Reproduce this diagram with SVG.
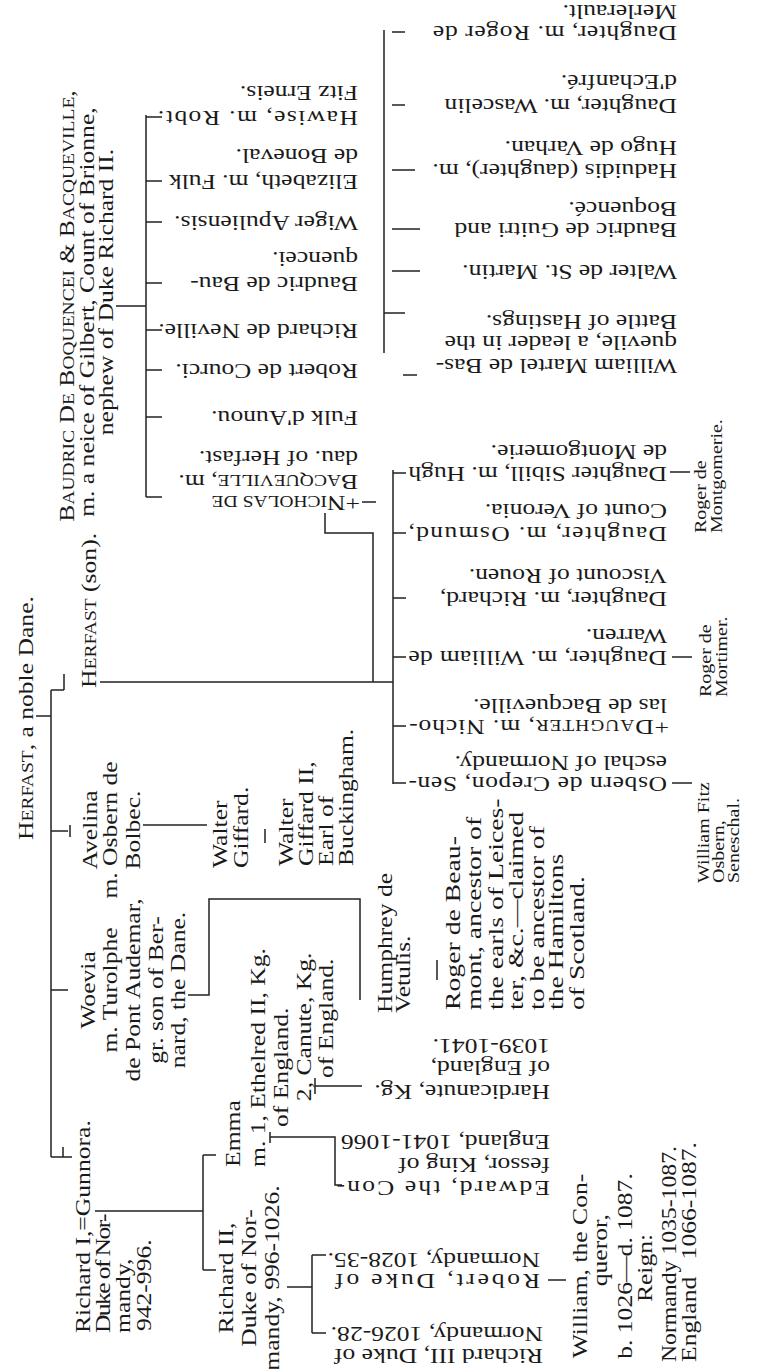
<svg xmlns="http://www.w3.org/2000/svg" width="758" height="1369" viewBox="0 0 758 1369">
<style>
text{font-family:"Liberation Serif","Times New Roman",serif;font-size:21px;fill:#1a1a1a}
.sc{font-size:16px}
.sm text{font-size:16px}
.m{text-anchor:middle}
.e{text-anchor:end}
.ln path{stroke:#222;stroke-width:1.5;fill:none}
</style>
<rect width="758" height="1369" fill="#fff"/>

<g id="herfast"><text transform="translate(33,840) rotate(-90) scale(1.22,1)">H<tspan class="sc">ERFAST</tspan>, a noble Dane.</text></g>

<g id="baudric" transform="translate(74,306) rotate(-90) scale(1.22,1)">
<text class="m" x="0" y="0">B<tspan class="sc">AUDRIC</tspan> D<tspan class="sc">E</tspan> B<tspan class="sc">OQUENCEI</tspan> &amp; B<tspan class="sc">ACQUEVILLE</tspan>,</text>
<text class="m" x="-5" y="20">m. a neice of Gilbert, Count of Brionne,</text>
<text class="m" x="11.5" y="39">nephew of Duke Richard II.</text>
</g>

<g id="hawise" transform="translate(358,111) rotate(180) scale(1.22,1)"><text textLength="164">Hawise, m. Robt.</text><text y="25">Fitz Erneis.</text></g>
<g id="elizabeth" transform="translate(358,175) rotate(180) scale(1.22,1)"><text>Elizabeth, m. Fulk</text><text y="26">de Boneval.</text></g>
<g id="wiger" transform="translate(358,216) rotate(180) scale(1.22,1)"><text>Wiger Apuliensis.</text></g>
<g id="baudric-bauquencei" transform="translate(358,277) rotate(180) scale(1.22,1)"><text>Baudric de Bau-</text><text y="25">quencei.</text></g>
<g id="neville" transform="translate(358,324) rotate(180) scale(1.22,1)"><text>Richard de Neville.</text></g>
<g id="courci" transform="translate(358,364) rotate(180) scale(1.22,1)"><text>Robert de Courci.</text></g>
<g id="fulk" transform="translate(358,411) rotate(180) scale(1.22,1)"><text>Fulk d'Aunou.</text></g>
<g id="nicholas" transform="translate(360,496) rotate(180) scale(1.22,1)"><text>+N<tspan class="sc">ICHOLAS DE</tspan></text><text x="1.6" y="21">B<tspan class="sc">ACQUEVILLE</tspan>, m.</text><text x="1.6" y="45">dau. of Herfast.</text></g>

<g id="merlerault" transform="translate(677,26) rotate(180) scale(1.22,1)"><text textLength="200">Daughter, m. Roger de</text><text y="21">Merlerault.</text></g>
<g id="wascelin" transform="translate(677,99) rotate(180) scale(1.22,1)"><text>Daughter, m. Wascelin</text><text y="24">d'Echanfré.</text></g>
<g id="haduidis" transform="translate(677,164) rotate(180) scale(1.22,1)"><text>Haduidis (daughter), m.</text><text y="23">Hugo de Varhan.</text></g>
<g id="guitri" transform="translate(677,223) rotate(180) scale(1.22,1)"><text>Baudric de Guitri and</text><text y="21">Boquencé.</text></g>
<g id="st-martin" transform="translate(677,265) rotate(180) scale(1.22,1)"><text>Walter de St. Martin.</text></g>
<g id="martel" transform="translate(677,359) rotate(180) scale(1.22,1)"><text>William Martel de Bas-</text><text y="23">quevile, a leader in the</text><text y="44">Battle of Hastings.</text></g>

<g id="herfast-son"><text transform="translate(96,688) rotate(-90) scale(1.22,1)">H<tspan class="sc">ERFAST</tspan> (son).</text></g>

<g id="sibill" transform="translate(667,467) rotate(180) scale(1.22,1)"><text textLength="212">Daughter Sibill, m. Hugh</text><text y="22">de Montgomerie.</text></g>
<g id="osmund" transform="translate(667,527) rotate(180) scale(1.22,1)"><text textLength="212">Daughter, m. Osmund,</text><text y="23">Count of Veronia.</text></g>
<g id="rouen" transform="translate(667,592) rotate(180) scale(1.22,1)"><text>Daughter, m. Richard,</text><text y="23">Viscount of Rouen.</text></g>
<g id="warren" transform="translate(667,651) rotate(180) scale(1.22,1)"><text textLength="212">Daughter, m. William de</text><text y="22">Warren.</text></g>
<g id="daughter-nicholas" transform="translate(669,720) rotate(180) scale(1.22,1)"><text textLength="213">+D<tspan class="sc">AUGHTER</tspan>, m. Nicho-</text><text x="1.6" y="21">las de Bacqueville.</text></g>
<g id="osbern" transform="translate(667,777) rotate(180) scale(1.22,1)"><text textLength="212">Osbern de Crepon, Sen-</text><text y="21">eschal of Normandy.</text></g>

<g class="sm">
<g id="montgomerie" transform="translate(706,533) rotate(-90) scale(1.25,1)"><text>Roger de</text><text y="16">Montgomerie.</text></g>
<g id="mortimer" transform="translate(711,697) rotate(-90) scale(1.25,1)"><text>Roger de</text><text y="16">Mortimer.</text></g>
<g id="fitz-osbern" transform="translate(709,883) rotate(-90) scale(1.25,1)"><text>William Fitz</text><text y="15">Osbern,</text><text y="30">Seneschal.</text></g>
</g>

<g id="avelina" transform="translate(97,830) rotate(-90) scale(1.22,1)"><text class="m">Avelina</text><text class="m" y="20">m. Osbern de</text><text class="m" y="43">Bolbec.</text></g>
<g id="walter-giffard" transform="translate(227,868) rotate(-90) scale(1.22,1)"><text>Walter</text><text y="21">Giffard.</text></g>
<g id="walter-giffard-ii" transform="translate(293,866) rotate(-90) scale(1.22,1)"><text>Walter</text><text y="20">Giffard II,</text><text y="40">Earl of</text><text y="60">Buckingham.</text></g>

<g id="woevia" transform="translate(95,990) rotate(-90) scale(1.22,1)"><text class="m">Woevia</text><text class="m" y="22">m. Turolphe</text><text class="m" y="45">de Pont Audemar,</text><text class="m" y="68">gr. son of Ber-</text><text class="m" y="90">nard, the Dane.</text></g>
<g id="humphrey" transform="translate(392,1013) rotate(-90) scale(1.22,1)"><text>Humphrey de</text><text y="18">Vetulis.</text></g>
<g id="beaumont" transform="translate(460,1010) rotate(-90) scale(1.32,1)"><text>Roger de Beau-</text><text y="21">mont, ancestor of</text><text y="43">the earls of Leices-</text><text y="63">ter, &amp;c.—claimed</text><text y="84">to be ancestor of</text><text y="103">the Hamiltons</text><text y="124">of Scotland.</text></g>

<g id="richard-i" transform="translate(90,1333) rotate(-90) scale(1.22,1)"><text>Richard I,=Gunnora.</text><text y="20" textLength="98">Duke of Nor-</text><text y="40">mandy,</text><text x="1.6" y="61">942-996.</text></g>
<g id="emma" transform="translate(240,1167) rotate(-90) scale(1.22,1)"><text>Emma</text><text y="25">m. 1, Ethelred II, Kg.</text><text x="32.8" y="48">of England.</text><text x="54" y="71">2, Canute, Kg.</text><text x="73" y="93">of England.</text></g>
<g id="richard-ii" transform="translate(233,1278) rotate(-90) scale(1.22,1)"><text class="m">Richard II,</text><text class="m" y="23">Duke of Nor-</text><text class="m" y="46">mandy, 996-1026.</text></g>

<g id="edward" transform="translate(550,1181) rotate(180) scale(1.22,1)"><text textLength="175">Edward, the Con-</text><text y="23">fessor, King of</text><text y="46">England, 1041-1066</text></g>
<g id="hardicanute" transform="translate(550,1085) rotate(180) scale(1.22,1)"><text>Hardicanute, Kg.</text><text y="24">of England,</text><text y="46">1039-1041.</text></g>
<g id="robert" transform="translate(540,1274) rotate(180) scale(1.22,1)"><text textLength="168">Robert, Duke of</text><text y="21">Normandy, 1028-35.</text></g>
<g id="richard-iii" transform="translate(543,1349) rotate(180) scale(1.22,1)"><text>Richard III, Duke of</text><text y="22">Normandy, 1026-28.</text></g>

<g id="william" transform="translate(587,1266) rotate(-90) scale(1.22,1)"><text class="m">William, the Con-</text><text class="m" x="13" y="20">queror,</text><text class="m" y="45">b. 1026—d. 1087.</text><text class="m" x="-1.6" y="65">Reign:</text><text x="-78.7" y="89" textLength="177" lengthAdjust="spacingAndGlyphs">Normandy 1035-1087.</text><text x="-78.7" y="109">England</text><text class="e" x="101.6" y="109">1066-1087.</text></g>

<g id="connectors" class="ln">
<path d="M36,716H51M51,690V1157M51,690H64M64,674V690M51,831H68M70,825V837M51,990H68M51,1157H72M63,1147V1157"/>
<path d="M100,682H393M373,682V533H325V513M393,470V784"/>
<path d="M393,473H406M393,533H406M393,598H406M393,657H406M393,726H406M393,783H406M670,472H690M672,657H692M672,783H692"/>
<path d="M116,306H146M146,115V497M146,117H162M146,181H162M146,222H162M146,283H162M146,330H162M146,370H162M146,417H162M146,497H162M362,502H376"/>
<path d="M384,30V353M392,32H405M392,105H405M392,170H415M392,229H420M392,271H420M384,313H405M403,375H417"/>
<path d="M143,825H207M265,829V843M188,995H209V899H360V1000"/>
<path d="M95,1211H203M203,1155V1270M203,1155H216M203,1270H216"/>
<path d="M270,1132V1143M270,1137H335V1185H342M315,1078V1094M315,1086H362"/>
<path d="M287,1287H312M312,1255V1333M312,1255H326M312,1333H326M548,1280H566M437,960V980"/>
</g>
</svg>
